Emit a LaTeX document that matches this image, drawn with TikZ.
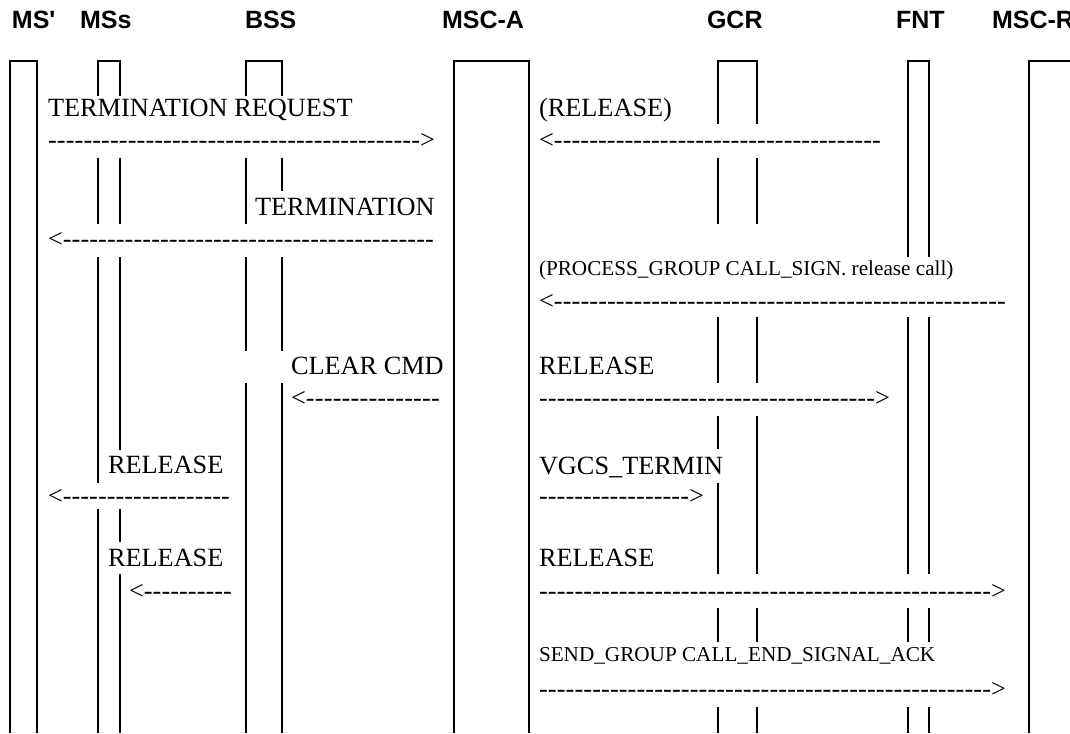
\documentclass[tikz,border=0pt]{standalone}
\usepackage{fontspec}
\setmainfont{Liberation Serif}
\newfontfamily\hdrfont{Liberation Sans}
\newcommand{\dashR}[1]{\hbox to #1pt{\xleaders\hbox{-}\hfill>}}
\newcommand{\dashL}[1]{\hbox to #1pt{<\xleaders\hbox{-}\hfill}}
\begin{document}
\begin{tikzpicture}[x=1pt,y=-1pt,
  hdr/.style={font=\hdrfont\bfseries\fontsize{25}{25}\selectfont, anchor=base west, inner sep=0pt, outer sep=0pt},
  msg/.style={font=\fontsize{26.3}{26.3}\selectfont, anchor=base west, inner sep=0pt, outer sep=0pt},
  smsg/.style={font=\fontsize{21.2}{21.2}\selectfont, anchor=base west, inner sep=0pt, outer sep=0pt},
  life/.style={line width=2pt}]
\useasboundingbox (0,0) rectangle (1070,733);
% headers
\node[hdr] (hMSp) at (12,29) {MS'};
\node[hdr] (hMSs) at (80,29) {MSs};
\node[hdr] (hBSS) at (245,29) {BSS};
\node[hdr] (hMSCA) at (442,29) {MSC-A};
\node[hdr] (hGCR) at (707,29) {GCR};
\node[hdr] (hFNT) at (896,29) {FNT};
\node[hdr] (hMSCR) at (992,29) {MSC-R};
% MS'
\draw[life] (9.5,733) -- (9.5,61) -- (37,61) -- (37,733);
% MSs
\draw[life] (98,96) -- (98,61) -- (120,61) -- (120,96);
\draw[life] (98,157.5) -- (98,223.6) (120,157.5) -- (120,223.6);
\draw[life] (98,257) -- (98,482.5) (120,257) -- (120,450);
\draw[life] (98,509) -- (98,733) (120,509) -- (120,541.7) (120,574) -- (120,733);
% BSS
\draw[life] (245.5,96) -- (245.5,61) -- (281.7,61) -- (281.7,96);
\draw[life] (245.5,157.5) -- (245.5,223.6) (281.7,157.5) -- (281.7,191);
\draw[life] (245.5,257) -- (245.5,351) (281.7,257) -- (281.7,351);
\draw[life] (245.5,383) -- (245.5,733) (281.7,383) -- (281.7,733);
% MSC-A
\draw[life] (454,733) -- (454,61) -- (529,61) -- (529,733);
% GCR
\draw[life] (718,124) -- (718,61) -- (757,61) -- (757,124);
\draw[life] (718,157.5) -- (718,223.6) (757,157.5) -- (757,223.6);
\draw[life] (718,316.5) -- (718,382.6) (757,316.5) -- (757,382.6);
\draw[life] (718,416) -- (718,449) (757,416) -- (757,574) (718,482.5) -- (718,574);
\draw[life] (718,608) -- (718,641.5) (757,608) -- (757,641.5);
\draw[life] (718,707) -- (718,733) (757,707) -- (757,733);
% FNT
\draw[life] (908,257.4) -- (908,61) -- (929,61) -- (929,257.4);
\draw[life] (908,316.5) -- (908,574) (929,316.5) -- (929,574);
\draw[life] (908,608) -- (908,641.5) (929,608) -- (929,641.5);
\draw[life] (908,707) -- (908,733) (929,707) -- (929,733);
% MSC-R
\draw[life] (1029,733) -- (1029,61) -- (1075,61);
% messages left
\node[msg] (t1) at (48,117) {TERMINATION REQUEST};
\node[msg] (a1) at (48,148) {\dashR{387}};
\node[msg] (t2) at (255,215) {TERMINATION};
\node[msg] (a2) at (48,247) {\dashL{386}};
\node[msg] (t3) at (291,374) {CLEAR CMD};
\node[msg] (a3) at (291,406) {\dashL{149}};
\node[msg] (t4) at (108,473) {RELEASE};
\node[msg] (a4) at (48,504) {\dashL{182}};
\node[msg] (t5) at (108,566) {RELEASE};
\node[msg] (a5) at (129,599) {\dashL{103}};
% messages right
\node[msg] (r1) at (539,117) {(RELEASE)};
\node[msg] (b1) at (539,148) {\dashL{342}};
\node[smsg] (r2) at (539,275) {(PROCESS\_GROUP CALL\_SIGN. release call)};
\node[msg] (b2) at (539,309) {\dashL{467}};
\node[msg] (r3) at (539,374) {RELEASE};
\node[msg] (b3) at (539,406) {\dashR{351}};
\node[msg] (r4) at (539,474) {VGCS\_TERMIN};
\node[msg] (b4) at (539,504) {\dashR{165}};
\node[msg] (r5) at (539,566) {RELEASE};
\node[msg] (b5) at (539,599) {\dashR{467}};
\node[smsg] (r6) at (539,661) {SEND\_GROUP CALL\_END\_SIGNAL\_ACK};
\node[msg] (b6) at (539,697) {\dashR{467}};
\end{tikzpicture}
\end{document}
